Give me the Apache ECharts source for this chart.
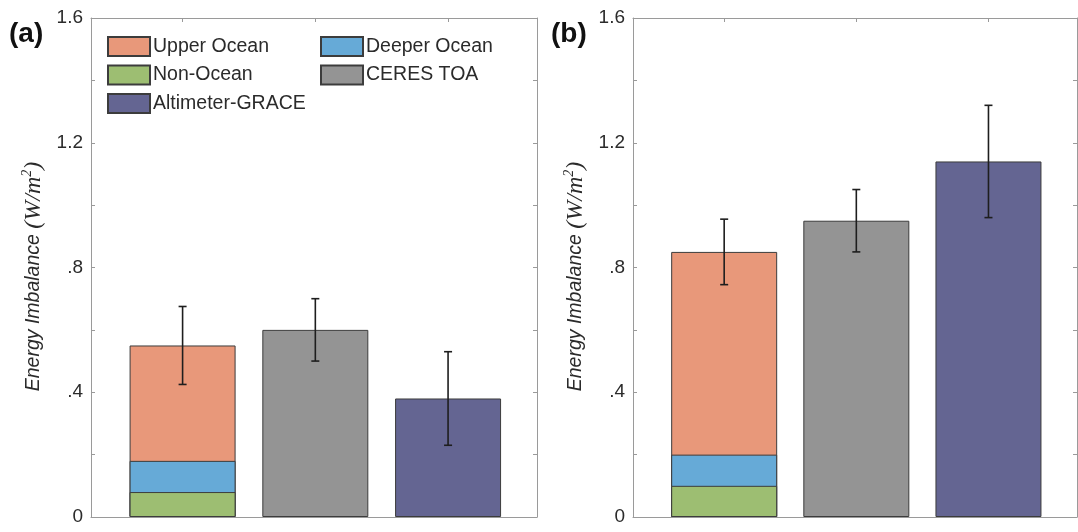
<!DOCTYPE html>
<html>
<head>
<meta charset="utf-8">
<script src="https://cdn.jsdelivr.net/npm/echarts@6/dist/echarts.min.js"></script>
<style>html,body{margin:0;padding:0;background:#fff;}#c{width:1078px;height:532px;}</style>
</head>
<body>
<div id="c"></div>
<script>
// ---- data ----
const positions = [1, 2, 3];
// panel (a)
const nonOceanA   = [0.08, null, null];
const deeperA     = [0.10, null, null];
const upperA      = [0.37, null, null];
const ceresA      = [null, 0.60, null];
const altimeterA  = [null, null, 0.38];
const errA        = [0.125, 0.10, 0.15];
// panel (b)
const nonOceanB   = [0.10, null, null];
const deeperB     = [0.10, null, null];
const upperB      = [0.65, null, null];
const ceresB      = [null, 0.95, null];
const altimeterB  = [null, null, 1.14];
const errB        = [0.105, 0.10, 0.18];
const yTicks = [0, 0.4, 0.8, 1.2, 1.6];
const yTickLabels = ['0', '.4', '.8', '1.2', '1.6'];
// stacking order, bottom to top
const seriesNames = ['Non-Ocean', 'Deeper Ocean', 'Upper Ocean', 'CERES TOA', 'Altimeter-GRACE'];
const colors = {'Upper Ocean':'#E8987A','Deeper Ocean':'#66AAD7','Non-Ocean':'#9DBE72','CERES TOA':'#949494','Altimeter-GRACE':'#646592'};

const chart = echarts.init(document.getElementById('c'));
const axisGray = '#9a9a9a';
const textGray = '#2b2b2b';

function makeX(gi, top) {
  return {
    type: 'value', gridIndex: gi, min: 0.31, max: 3.67,
    position: top ? 'top' : 'bottom',
    axisLine: {show: true, onZero: false, lineStyle: {color: axisGray, width: 1}},
    axisTick: {show: true, inside: true, length: 4, customValues: positions, lineStyle: {color: axisGray}},
    axisLabel: {show: false},
    splitLine: {show: false}
  };
}
function makeY(gi, right) {
  const nm = right ? {} : {
    name: '{a|Energy Imbalance }{b|(W/m}{c|2}{b|)}',
    nameLocation: 'middle', nameGap: 44, nameRotate: 90,
    nameTextStyle: {
      padding: [0, 18, 0, 0],
      rich: {
        a: {fontFamily: 'Liberation Sans, Arial', fontStyle: 'italic', fontSize: 19.5, color: textGray},
        b: {fontFamily: 'Liberation Serif, Times New Roman', fontStyle: 'italic', fontSize: 24, color: textGray},
        c: {fontFamily: 'Liberation Serif, Times New Roman', fontStyle: 'italic', fontSize: 14, color: textGray, verticalAlign: 'top', padding: [0,0,13,0]}
      }
    }
  };
  return Object.assign({
    type: 'value', gridIndex: gi, min: 0, max: 1.6, interval: 0.2,
    position: right ? 'right' : 'left',
    axisLine: {show: true, lineStyle: {color: axisGray, width: 1}},
    axisTick: {show: true, inside: true, length: 4, lineStyle: {color: axisGray}},
    axisLabel: {
      show: !right, margin: 8, fontFamily: 'Liberation Sans, Arial', fontSize: 19, color: textGray,
      formatter: function (v) {
        for (let i = 0; i < yTicks.length; i++) if (Math.abs(v - yTicks[i]) < 1e-6) return yTickLabels[i];
        return '';
      }
    },
    splitLine: {show: false}
  }, nm);
}

// cumulative tops (stack drawn as overlapping bars, top segment first)
function cumulative(sets, k) {
  return positions.map((p, i) => {
    if (sets[k][i] == null) return null;
    let t = 0;
    for (let j = 0; j <= k; j++) if (sets[j][i] != null) t += sets[j][i];
    return t;
  });
}
function barSeries(name, sets, k, xi, yi) {
  const tops = cumulative(sets, k);
  return {
    name: name, type: 'bar', xAxisIndex: xi, yAxisIndex: yi,
    barWidth: 106, barGap: '-100%',
    data: positions.map((p, i) => [p, tops[i] == null ? '-' : tops[i]]),
    itemStyle: {color: colors[name], borderColor: '#3c3c3c', borderWidth: 1},
    emphasis: {disabled: true},
    z: 10 - k
  };
}
function errSeries(sets, errs, xi, yi) {
  const data = positions.map((p, i) => {
    let tot = 0;
    sets.forEach(s => { if (s[i] != null) tot += s[i]; });
    return [p, tot - errs[i], tot + errs[i]];
  });
  return {
    type: 'custom', xAxisIndex: xi, yAxisIndex: yi, z: 20,
    data: data,
    renderItem: function (params, api) {
      const lo = api.coord([api.value(0), api.value(1)]);
      const hi = api.coord([api.value(0), api.value(2)]);
      const w = 4;
      const st = {stroke: '#1e1e1e', lineWidth: 1.6};
      return {type: 'group', children: [
        {type: 'line', shape: {x1: lo[0], y1: lo[1], x2: hi[0], y2: hi[1]}, style: st},
        {type: 'line', shape: {x1: lo[0]-w, y1: lo[1], x2: lo[0]+w, y2: lo[1]}, style: st},
        {type: 'line', shape: {x1: hi[0]-w, y1: hi[1], x2: hi[0]+w, y2: hi[1]}, style: st}
      ]};
    }
  };
}

const setsA = [nonOceanA, deeperA, upperA, ceresA, altimeterA];
const setsB = [nonOceanB, deeperB, upperB, ceresB, altimeterB];

const series = [];
seriesNames.forEach((n, k) => series.push(barSeries(n, setsA, k, 0, 0)));
seriesNames.forEach((n, k) => series.push(barSeries(n, setsB, k, 2, 2)));
series.push(errSeries(setsA, errA, 0, 0));
series.push(errSeries(setsB, errB, 2, 2));

const legendCommon = {
  orient: 'vertical', itemWidth: 42, itemHeight: 19, itemGap: 7.5,
  icon: 'rect', selectedMode: false,
  textStyle: {fontFamily: 'Liberation Sans, Arial', fontSize: 19.5, color: textGray, padding: [0,0,0,-2]},
  padding: 0
};

chart.setOption({
  animation: false,
  backgroundColor: '#fff',
  grid: [
    {left: 91, right: 1078 - 537, top: 18, bottom: 15, show: false},
    {left: 633, right: 1, top: 18, bottom: 15, show: false}
  ],
  xAxis: [makeX(0, false), makeX(0, true), makeX(1, false), makeX(1, true)],
  yAxis: [makeY(0, false), makeY(0, true), makeY(1, false), makeY(1, true)],
  legend: [
    Object.assign({left: 107, top: 36, data: ['Upper Ocean', 'Non-Ocean', 'Altimeter-GRACE']}, legendCommon),
    Object.assign({left: 320, top: 36, data: ['Deeper Ocean', 'CERES TOA']}, legendCommon)
  ],
  graphic: [
    {type: 'text', left: 9, top: 20, style: {text: '(a)', font: 'bold 28px Liberation Sans, Arial', fill: '#111'}},
    {type: 'text', left: 551, top: 20, style: {text: '(b)', font: 'bold 28px Liberation Sans, Arial', fill: '#111'}}
  ],
  series: series
});
</script>
</body>
</html>
